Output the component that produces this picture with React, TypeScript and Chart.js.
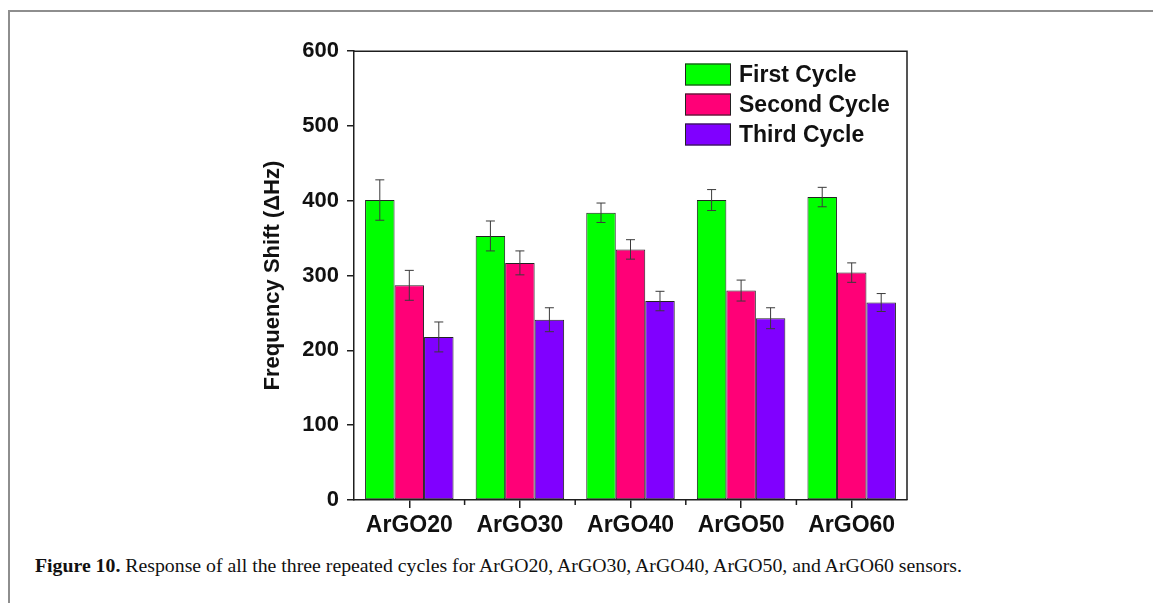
import React, { useEffect, useRef } from "react";
import { Chart, registerables } from "chart.js";

Chart.register(...registerables);

const categories = ["ArGO20", "ArGO30", "ArGO40", "ArGO50", "ArGO60"];
const seriesNames = ["First Cycle", "Second Cycle", "Third Cycle"];
const firstCycle = [401, 353, 384, 401, 405];
const secondCycle = [287, 317, 335, 280, 304];
const thirdCycle = [218, 241, 266, 243, 264];
const firstErr = [27, 20, 13, 14, 13];
const secondErr = [20, 16, 13, 14, 13];
const thirdErr = [20, 16, 13, 14, 12];
const seriesColors = ["#00ff00", "#ff0077", "#8000ff"];
const yMin = 0;
const yMax = 600;
const yStep = 100;
const yTitle = "Frequency Shift (\u0394Hz)";
const captionBold = "Figure 10.";
const captionText =
  " Response of all the three repeated cycles for ArGO20, ArGO30, ArGO40, ArGO50, and ArGO60 sensors.";

const FONT = "'Liberation Sans', Arial, sans-serif";
const AXIS = "#1e1e1e";

const errorBarPlugin = {
  id: "errorBars",
  afterDatasetsDraw(chart: any) {
    const ctx = chart.ctx;
    const y = chart.scales.y;
    chart.data.datasets.forEach((ds: any, d: number) => {
      const meta = chart.getDatasetMeta(d);
      meta.data.forEach((bar: any, i: number) => {
        const v = ds.data[i];
        const e = ds.errors[i];
        const top = y.getPixelForValue(v + e);
        const bot = y.getPixelForValue(v - e);
        ctx.save();
        ctx.strokeStyle = "#3a3a3a";
        ctx.lineWidth = 1;
        ctx.beginPath();
        ctx.moveTo(bar.x, top);
        ctx.lineTo(bar.x, bot);
        ctx.moveTo(bar.x - 4.5, top);
        ctx.lineTo(bar.x + 4.5, top);
        ctx.moveTo(bar.x - 4.5, bot);
        ctx.lineTo(bar.x + 4.5, bot);
        ctx.stroke();
        ctx.restore();
      });
    });
  },
};

const framePlugin = {
  id: "frame",
  afterDraw(chart: any) {
    const ctx = chart.ctx;
    const a = chart.chartArea;
    const x = chart.scales.x;
    ctx.save();
    ctx.strokeStyle = AXIS;
    ctx.lineWidth = 1.5;
    ctx.beginPath();
    ctx.moveTo(a.left, a.top);
    ctx.lineTo(a.right, a.top);
    ctx.lineTo(a.right, a.bottom);
    ctx.stroke();
    const n = chart.data.labels.length;
    const half = (x.getPixelForValue(1) - x.getPixelForValue(0)) / 2;
    ctx.beginPath();
    for (let i = 0; i < n - 1; i++) {
      const px = x.getPixelForValue(i) + half;
      ctx.moveTo(px, a.bottom);
      ctx.lineTo(px, a.bottom + 5);
    }
    ctx.stroke();
    ctx.restore();
  },
};

const legendPlugin = {
  id: "customLegend",
  afterDraw(chart: any) {
    const ctx = chart.ctx;
    const bx = 435;
    const by = 33.5;
    const bw = 46;
    const bh = 22;
    const gap = 30;
    ctx.save();
    chart.data.datasets.forEach((ds: any, d: number) => {
      const yy = by + d * gap;
      ctx.fillStyle = ds.backgroundColor;
      ctx.fillRect(bx, yy, bw, bh);
      ctx.strokeStyle = "#222";
      ctx.lineWidth = 1;
      ctx.strokeRect(bx + 0.5, yy + 0.5, bw - 1, bh - 1);
      ctx.fillStyle = "#111";
      ctx.font = `bold 23px ${FONT}`;
      ctx.textBaseline = "middle";
      ctx.textAlign = "left";
      ctx.fillText(ds.label, bx + bw + 8, yy + bh / 2 + 1);
    });
    ctx.restore();
  },
};

function App() {
  const ref = useRef<HTMLCanvasElement | null>(null);

  useEffect(() => {
    if (!ref.current) return;
    const values = [firstCycle, secondCycle, thirdCycle];
    const errs = [firstErr, secondErr, thirdErr];
    const chart = new Chart(ref.current, {
      type: "bar",
      data: {
        labels: categories,
        datasets: seriesNames.map((name, k) => ({
          label: name,
          data: values[k],
          errors: errs[k],
          backgroundColor: seriesColors[k],
          borderColor: "#222",
          borderWidth: 1,
          borderSkipped: false,
          categoryPercentage: 0.8,
          barPercentage: 1.0,
        })) as any,
      },
      options: {
        animation: false,
        responsive: false,
        maintainAspectRatio: false,
        devicePixelRatio: 1,
        layout: { padding: { top: 20, right: 33, left: 0, bottom: 0 } },
        plugins: {
          legend: { display: false },
          tooltip: { enabled: false },
          title: { display: false },
        },
        scales: {
          x: {
            type: "category",
            offset: true,
            grid: {
              display: true,
              offset: false,
              drawOnChartArea: false,
              drawTicks: true,
              tickLength: 8,
              color: AXIS,
              lineWidth: 1.5,
            },
            border: { display: true, color: AXIS, width: 1.5 },
            ticks: {
              color: "#111",
              font: { family: FONT, size: 23, weight: "bold" },
              padding: 4,
              maxRotation: 0,
              autoSkip: false,
            },
            afterFit(scale: any) {
              scale.height = 50;
            },
          },
          y: {
            min: yMin,
            max: yMax,
            grid: {
              display: true,
              drawOnChartArea: false,
              drawTicks: true,
              tickLength: 7,
              color: AXIS,
              lineWidth: 1.5,
            },
            border: { display: true, color: AXIS, width: 1.5 },
            ticks: {
              stepSize: yStep,
              color: "#111",
              font: { family: FONT, size: 22, weight: "bold" },
              padding: 8,
            },
            title: {
              display: true,
              text: yTitle,
              color: "#111",
              font: { family: FONT, size: 22, weight: "bold" },
              padding: { top: 10, bottom: 0 },
            },
            afterFit(scale: any) {
              scale.width = 104;
            },
          },
        },
      } as any,
      plugins: [errorBarPlugin, framePlugin, legendPlugin],
    });
    return () => chart.destroy();
  }, []);

  return (
    <div
      style={{
        position: "fixed",
        left: 0,
        top: 0,
        width: 1153,
        height: 603,
        overflow: "hidden",
        background: "#fff",
      }}
    >
      <div
        style={{
          position: "absolute",
          left: 8,
          top: 10,
          width: 1300,
          height: 700,
          borderLeft: "2px solid #8e8e8e",
          borderTop: "2px solid #8e8e8e",
        }}
      />
      <canvas
        ref={ref}
        width={690}
        height={520}
        style={{ position: "absolute", left: 250, top: 30, width: 690, height: 520 }}
      />
      <div
        style={{
          position: "absolute",
          left: 35,
          top: 554,
          whiteSpace: "nowrap",
          fontFamily: "'Liberation Serif', 'Times New Roman', serif",
          fontSize: 19.8,
          color: "#111",
          lineHeight: "22px",
        }}
      >
        <b>{captionBold}</b>
        {captionText}
      </div>
    </div>
  );
}

export default App;
